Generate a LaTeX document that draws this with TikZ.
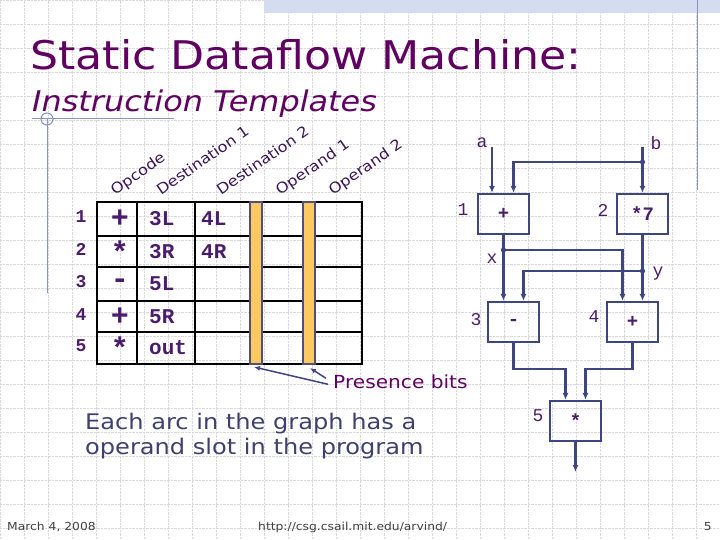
\documentclass[tikz,border=0pt]{standalone}
\usepackage{fontspec}
\setmainfont{DejaVu Sans}[FakeStretch=1.12]
\newfontfamily\codefont{Liberation Mono}
\usetikzlibrary{positioning,arrows.meta}
\definecolor{slidepurple}{HTML}{600060}
\definecolor{tabpurple}{HTML}{4A1C6C}
\definecolor{graphblue}{HTML}{3F4580}
\definecolor{bodyblue}{HTML}{404070}
\definecolor{barorange}{HTML}{FFC860}
\definecolor{barrim}{HTML}{505078}
\definecolor{decoblue}{HTML}{8494C8}
\definecolor{bandblue}{HTML}{D4DCF0}
\tikzset{
  >=Latex,
  flow/.style={-{Latex[length=7pt,width=6pt]},line width=2.2pt,draw=graphblue},
  opbox/.style={rectangle,draw=graphblue,line width=2.2pt,minimum width=51pt,minimum height=40pt,inner sep=0pt,font=\codefont\bfseries\fontsize{19}{19}\selectfont,text=tabpurple},
  glabel/.style={font=\codefont\fontsize{18}{18}\selectfont,text=tabpurple,inner sep=0pt},
  cell/.style={anchor=west,font=\codefont\bfseries\fontsize{21}{21}\selectfont,text=tabpurple,inner sep=0pt},
  opsym/.style={font=\codefont\bfseries\fontsize{30}{30}\selectfont,text=tabpurple,inner sep=0pt},
  rownum/.style={font=\codefont\bfseries\fontsize{18}{18}\selectfont,text=tabpurple,inner sep=0pt},
  colhead/.style={anchor=base west,rotate=35,font=\fontsize{14.5}{14.5}\selectfont,text=tabpurple!80!black,inner sep=0pt},
  bit/.style={fill=barorange,draw=barrim,line width=1.5pt},
  pointer/.style={-{Latex[length=6pt,width=5pt]},line width=1.5pt,draw=graphblue},
  foot/.style={font=\fontsize{11}{11}\selectfont,text=black!75,inner sep=0pt}
}
\begin{document}
\begin{tikzpicture}[x=1pt,y=-1pt]
    \useasboundingbox (0,0) rectangle (720,540);
    \fill[white] (0,0) rectangle (720,540);
    \draw[gray!30,densely dotted,step=24pt] (0,0) grid (720,540);
    \fill[bandblue] (264,0) rectangle (720,13);
    \draw[decoblue,line width=1pt] (697,0) -- (697,190);
    \draw[decoblue,line width=1pt] (32,119) -- (174,119);
    \draw[decoblue,line width=1pt] (47,119) circle[radius=6pt];
    \draw[decoblue,line width=1pt] (47,119) -- (47,293);

    \node[anchor=base west,inner sep=0pt,text=slidepurple,font=\fontsize{39.5}{39.5}\selectfont] (title) at (30,70) {Static Dataflow Machine:};
    \node[anchor=base west,inner sep=0pt,text=slidepurple,font=\itshape\fontsize{28.5}{28.5}\selectfont] (subtitle) at (32,112) {Instruction Templates};

    \foreach \x/\txt [count=\i] in {115/Opcode,161/Destination 1,221/Destination 2,280/Operand 1,333/Operand 2}
        \node[colhead] (h\i) at (\x,196) {\txt};

    \draw[line width=2.5pt] (97,202) rectangle (362,364);
    \foreach \y in {236,267,301,332} \draw[line width=2.5pt] (97,\y) -- (362,\y);
    \foreach \x in {137,195} \draw[line width=2.5pt] (\x,202) -- (\x,364);
    \foreach \x in {250,303} \draw[bit] (\x,202) rectangle +(12,162);
    \coordinate (bit1) at (254,367);
    \coordinate (bit2) at (310,368);

    \foreach \y/\n/\op/\da/\db in {219/1/+/3L/4L,251.5/2/*/3R/4R,284/3/-/5L/,316.5/4/+/5R/,348/5/*/out/}{
        \node[rownum] (r\n) at (81,\y-2) {\n};
        \node[opsym] (o\n) at (120,\y) {\op};
        \node[cell] (d\n) at (149,\y) {\da};
        \node[cell] (e\n) at (201,\y) {\db};
    }

    \node[anchor=base west,inner sep=0pt,text=slidepurple,font=\fontsize{18}{18}\selectfont] (pres) at (333,388) {Presence bits};
    \draw[pointer] ([xshift=-5pt,yshift=-3pt]pres.west) -- (bit1);
    \draw[pointer] ([xshift=-7pt,yshift=3pt]pres.west) -- (bit2);

    \node[anchor=north west,inner sep=0pt,text=bodyblue,font=\fontsize{21.5}{25}\selectfont,align=left] (note) at (85,413) {Each arc in the graph has a\\operand slot in the program};

    \node[opbox] (n1) at (503.5,214) {+};
    \node[opbox] (n2) at (642.5,214) {*7};
    \node[opbox] (n3) at (513.5,322) {-};
    \node[opbox] (n4) at (632.5,322) {+};
    \node[opbox] (n5) at (575.5,421) {*};
    \node[glabel] (l1) at (463,210) {1};
    \node[glabel] (l2) at (603,210) {2};
    \node[glabel] (l3) at (476,320) {3};
    \node[glabel] (l4) at (594,317) {4};
    \node[glabel] (l5) at (538,416) {5};
    \node[glabel] (la) at (482,143) {a};
    \node[glabel] (lb) at (656,143) {b};
    \node[glabel] (lx) at (492,259) {x};
    \node[glabel] (ly) at (658,274) {y};

    \coordinate (ina) at (492,147);
    \coordinate (inb) at (642.5,147);
    \coordinate (jb) at (642.5,162);
    \coordinate (jx) at (503.5,250);
    \coordinate (jy) at (642.5,271);
    \coordinate (res) at (575.5,472);
    \draw[flow] (ina) -- (ina |- n1.north);
    \draw[flow] (inb) -- (n2.north);
    \draw[flow] (jb) -| ([xshift=10pt]n1.north);
    \draw[flow] (n1.south) -- (n1.south |- n3.north);
    \draw[flow] (jx) -| ([xshift=-10pt]n4.north);
    \draw[flow] (n2.south) -- ([xshift=10pt]n4.north);
    \draw[flow] (jy) -| ([xshift=10pt]n3.north);
    \draw[flow] (n3.south) -- ++(0,26) -| ([xshift=-10pt]n5.north);
    \draw[flow] (n4.south) -- ++(0,26) -| ([xshift=10pt]n5.north);
    \draw[flow] (n5.south) -- (res);
    \foreach \j in {jb,jx,jy} \fill[graphblue] (\j) circle[radius=2.6pt];

    \node[foot,anchor=west] (date) at (7,527) {March 4, 2008};
    \node[foot,anchor=west] (url) at (258,527) {http://csg.csail.mit.edu/arvind/};
    \node[foot,anchor=east] (page) at (712,527) {5};
\end{tikzpicture}
\end{document}
